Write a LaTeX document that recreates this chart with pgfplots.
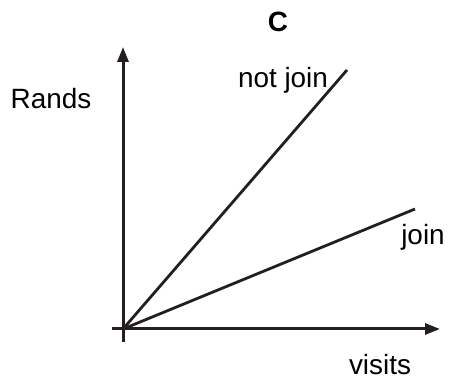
\documentclass[border=0pt]{standalone}
\usepackage{pgfplots}
\pgfplotsset{compat=1.18}
\usetikzlibrary{arrows.meta}
\usepackage{fontspec}
\setmainfont{Liberation Sans}
\definecolor{ink}{HTML}{231F20}

\begin{document}
\fontsize{14}{17}\selectfont
\begin{tikzpicture}
  % 1 px of the reference = 0.5bp; origin at pixel (123,329)
  \begin{axis}[
      x=0.5bp, y=0.5bp,
      axis lines=middle,
      xmin=-11, xmax=317,
      ymin=-13, ymax=282,
      ticks=none,
      clip=false,
      axis line style={ink, line width=1.5bp, -{Triangle[length=7.5bp,width=5.5bp]}},
    ]
    \path[use as bounding box] (axis cs:-123,-49) rectangle (axis cs:327,329);
    \addplot[ink, line width=1.4bp] coordinates {(0,0) (224,259)};
    \addplot[ink, line width=1.4bp] coordinates {(0,0) (292,120)};
    \node[font=\bfseries] at (axis cs:155,307) {C};
    \node at (axis cs:-72,230) {Rands};
    \node at (axis cs:160,249) {not join};
    \node at (axis cs:300,92) {join};
    \node at (axis cs:257,-36) {visits};
  \end{axis}
\end{tikzpicture}
\end{document}
